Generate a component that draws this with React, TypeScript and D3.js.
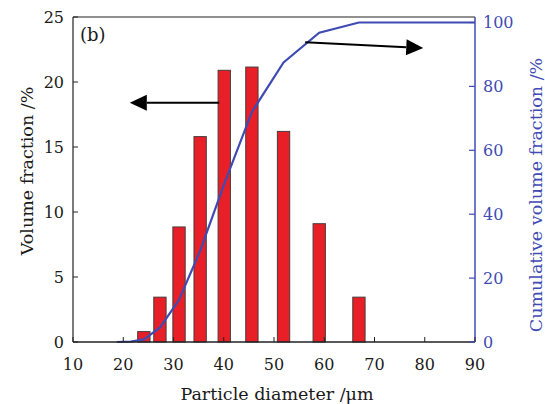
import React from "react";
import * as d3 from "d3";

// particle size classes (µm) and volume fraction per class (%)
const diameters = [24.1, 27.3, 31.1, 35.3, 40.1, 45.6, 51.9, 59.0, 66.9];
const volumeFraction = [0.8, 3.45, 8.85, 15.8, 20.9, 21.15, 16.2, 9.1, 3.45];

// cumulative curve
const cumX = [18.7, 21.5, 24.1, 27.3, 31.1, 35.3, 40.1, 45.6, 51.9, 59.0, 66.9, 90];
const cumY = [0, 0.1, 0.8, 4.5, 13.2, 28.5, 49.5, 72, 87.5, 96.8, 100, 100];

const xTicks = [10, 20, 30, 40, 50, 60, 70, 80, 90];
const leftTicks = [0, 5, 10, 15, 20, 25];
const rightTicks = [0, 20, 40, 60, 80, 100];

const W = 545;
const H = 404;
const m = { left: 73, right: 475, top: 17, bottom: 342 };
const FONT = "'DejaVu Serif', serif";
const RED = "#e81f27";
const BLUE = "#3f4bb3";
const INK = "#1a1a1a";

const x = d3.scaleLinear().domain([10, 90]).range([m.left, m.right]);
const yL = d3.scaleLinear().domain([0, 25]).range([m.bottom, m.top]);
const yR = d3.scaleLinear().domain([0, 100]).range([m.bottom, 22.5]);

const barW = x(12.45) - x(10);

const cumLine = d3
  .line<number>()
  .x((_, i) => x(cumX[i]))
  .y((d) => yR(d));

// arrow: start point, tip point (pixel coords from scales)
const Arrow = ({ x1, y1, x2, y2 }: { x1: number; y1: number; x2: number; y2: number }) => {
  const a = Math.atan2(y2 - y1, x2 - x1);
  const len = 17;
  const hw = 8;
  const bx = x2 - len * Math.cos(a);
  const by = y2 - len * Math.sin(a);
  const px = -Math.sin(a) * hw;
  const py = Math.cos(a) * hw;
  return (
    <g>
      <line x1={x1} y1={y1} x2={bx} y2={by} stroke="#000" strokeWidth={2} />
      <polygon points={`${x2},${y2} ${bx + px},${by + py} ${bx - px},${by - py}`} fill="#000" />
    </g>
  );
};

const App = () => {
  return (
    <svg width={W} height={H} style={{ position: "absolute", left: 0, top: 0, background: "#fff" }} fontFamily={FONT}>
      {/* bars */}
      {diameters.map((d, i) => (
        <rect
          key={i}
          x={x(d) - barW / 2}
          y={yL(volumeFraction[i])}
          width={barW}
          height={yL(0) - yL(volumeFraction[i])}
          fill={RED}
          stroke="#4a3a3a"
          strokeWidth={1}
        />
      ))}

      {/* cumulative curve */}
      <path d={cumLine(cumY) || ""} fill="none" stroke={BLUE} strokeWidth={2.2} />

      {/* frame */}
      <line x1={m.left} y1={m.top} x2={m.right} y2={m.top} stroke="#222" strokeWidth={1.2} />
      <line x1={m.left} y1={m.top} x2={m.left} y2={m.bottom} stroke="#222" strokeWidth={1.2} />
      <line x1={m.left} y1={m.bottom} x2={m.right} y2={m.bottom} stroke="#222" strokeWidth={1.5} />
      <line x1={m.right} y1={m.top} x2={m.right} y2={m.bottom} stroke={BLUE} strokeWidth={1.5} />

      {/* x axis */}
      {xTicks.map((t) => (
        <g key={t}>
          <line x1={x(t)} x2={x(t)} y1={m.bottom} y2={m.bottom - 5} stroke="#222" />
          <text x={x(t)} y={370} textAnchor="middle" fontSize={16} fill={INK}>
            {t}
          </text>
        </g>
      ))}
      <text x={(m.left + m.right) / 2 + 3} y={400} textAnchor="middle" fontSize={17.5} fill={INK}>
        Particle diameter /μm
      </text>

      {/* left axis */}
      {leftTicks.map((t) => (
        <g key={t}>
          <line x1={m.left} x2={m.left + 5} y1={yL(t)} y2={yL(t)} stroke="#222" />
          <text x={64} y={yL(t)} dy="0.36em" textAnchor="end" fontSize={16} fill={INK}>
            {t}
          </text>
        </g>
      ))}
      <text transform="translate(33,171) rotate(-90)" textAnchor="middle" fontSize={17.5} fill={INK}>
        Volume fraction /%
      </text>

      {/* right axis */}
      {rightTicks.map((t) => (
        <g key={t}>
          <line x1={m.right - 6} x2={m.right} y1={yR(t)} y2={yR(t)} stroke={BLUE} strokeWidth={1.2} />
          <text x={483} y={yR(t)} dy="0.36em" textAnchor="start" fontSize={16} fill={BLUE}>
            {t}
          </text>
        </g>
      ))}
      <text transform="translate(542,195) rotate(-90)" textAnchor="middle" fontSize={17.5} fill={BLUE}>
        Cumulative volume fraction /%
      </text>

      {/* annotations */}
      <text x={80} y={41} fontSize={18} fill={INK}>
        (b)
      </text>
      <Arrow x1={x(39.1)} y1={yL(18.4)} x2={x(21.3)} y2={yL(18.4)} />
      <Arrow x1={x(56.2)} y1={yR(93.8)} x2={x(79.7)} y2={yR(92)} />
    </svg>
  );
};

export default App;
